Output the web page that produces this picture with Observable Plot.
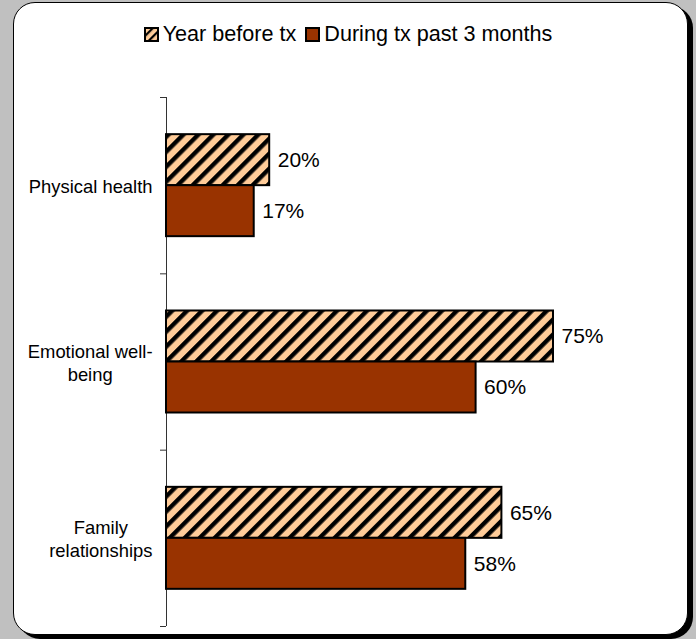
<!DOCTYPE html>
<html>
<head>
<meta charset="utf-8">
<script src="https://cdn.jsdelivr.net/npm/d3@7"></script>
<script src="https://cdn.jsdelivr.net/npm/@observablehq/plot@0.6"></script>
<style>
  html, body { margin: 0; padding: 0; }
  body { width: 696px; height: 639px; background: #c0c0c0; position: relative; overflow: hidden;
         font-family: "Liberation Sans", Arial, sans-serif; }
  .box { position: absolute; left: 13px; top: 2px; width: 673px; height: 631px;
         border: 1.5px solid #000; border-radius: 22px; background: #fff;
         box-shadow: 5px 4px 0 #000; }
  .legend { position: absolute; left: 0; top: 22px; width: 696px; height: 24px;
            display: flex; justify-content: center; align-items: center; gap: 9px;
            font-size: 21.6px; color: #000; }
  .legend .item { display: flex; align-items: center; }
  .legend svg { margin-right: 4px; display: block; }
  #chart { position: absolute; left: 0; top: 60px; }
  #defs { position: absolute; width: 0; height: 0; }
</style>
</head>
<body>
<svg id="defs" width="0" height="0">
  <defs>
    <pattern id="hatch" patternUnits="userSpaceOnUse" width="10.6" height="10.6" patternTransform="rotate(45)">
      <rect width="10.6" height="10.6" fill="#ffcc99"></rect>
      <rect width="4.4" height="10.6" fill="#000"></rect>
    </pattern>
    <pattern id="hatchSmall" patternUnits="userSpaceOnUse" width="6" height="6" patternTransform="rotate(45)">
      <rect width="6" height="6" fill="#ffcc99"></rect>
      <rect width="2.2" height="6" fill="#000"></rect>
    </pattern>
  </defs>
</svg>
<div class="box"></div>
<div class="legend" id="legend"></div>
<div id="chart"></div>
<script>
// ---- data ----
const categories = ["Physical health", "Emotional well-being", "Family relationships"];
const categoryLabels = ["Physical health", "Emotional well-\nbeing", "Family\nrelationships"];
const series = ["Year before tx", "During tx past 3 months"];
const yearBefore = [20, 75, 65];
const duringTx = [17, 60, 58];

// ---- styles ----
const seriesFill = ["url(#hatch)", "#993300"];
const legendFill = ["url(#hatchSmall)", "#993300"];
const barFrac = 51 / 176.33;   // bar thickness as a fraction of a category band
const fontFamily = "'Liberation Sans', Arial, sans-serif";
const catFont = 18.4;

const rows = [];
categories.forEach((c, i) => {
  rows.push({category: c, i, s: 0, series: series[0], value: yearBefore[i]});
  rows.push({category: c, i, s: 1, series: series[1], value: duringTx[i]});
});

// legend
const legend = document.getElementById("legend");
series.forEach((s, k) => {
  const item = document.createElement("div");
  item.className = "item";
  item.innerHTML = `<svg width="15" height="15"><rect x="1" y="1" width="13" height="13" fill="${legendFill[k]}" stroke="#000" stroke-width="2"></rect></svg><span>${s}</span>`;
  legend.appendChild(item);
});

// measure label widths
const ctx = document.createElement("canvas").getContext("2d");
ctx.font = catFont + "px 'Liberation Sans'";
const labelWidth = (t) => Math.max(...t.split("\n").map(l => ctx.measureText(l).width));

const barY1 = d => d.i + 0.5 - (d.s === 0 ? barFrac : 0);
const barY2 = d => d.i + 0.5 + (d.s === 1 ? barFrac : 0);
const barMid = d => d.i + 0.5 + (d.s === 0 ? -barFrac / 2 : barFrac / 2);

const chart = Plot.plot({
  width: 696,
  height: 579,
  marginTop: 37,
  marginBottom: 13,
  marginLeft: 166,
  marginRight: 14,
  style: {background: "transparent", fontFamily, overflow: "visible"},
  x: {domain: [0, 100], axis: null},
  y: {domain: [0, categories.length], reverse: true, axis: null},
  marks: [
    Plot.ruleX([0], {stroke: "#333", strokeWidth: 1}),
    Plot.axisY({ticks: d3.range(categories.length + 1), tickSize: 6, tickFormat: () => "", stroke: "#333", label: null}),
    Plot.rectX(rows.filter(d => d.s === 0), {x1: 0, x2: "value", y1: barY1, y2: barY2, fill: seriesFill[0], stroke: "#000", strokeWidth: 2}),
    Plot.rectX(rows.filter(d => d.s === 1), {x1: 0, x2: "value", y1: barY1, y2: barY2, fill: seriesFill[1], stroke: "#000", strokeWidth: 2}),
    Plot.text(rows, {x: "value", y: barMid, text: d => d.value + "%", dx: 8, textAnchor: "start", fontSize: 21, fill: "#000"}),
    ...categoryLabels.map((lab, i) => Plot.text([i], {
      y: d => d + 0.5, frameAnchor: "left", text: () => lab, textAnchor: "middle",
      dx: -(14 + labelWidth(lab) / 2), lineHeight: 1.25, fontSize: catFont, fill: "#000"
    }))
  ]
});
document.getElementById("chart").appendChild(chart);
</script>
</body>
</html>
